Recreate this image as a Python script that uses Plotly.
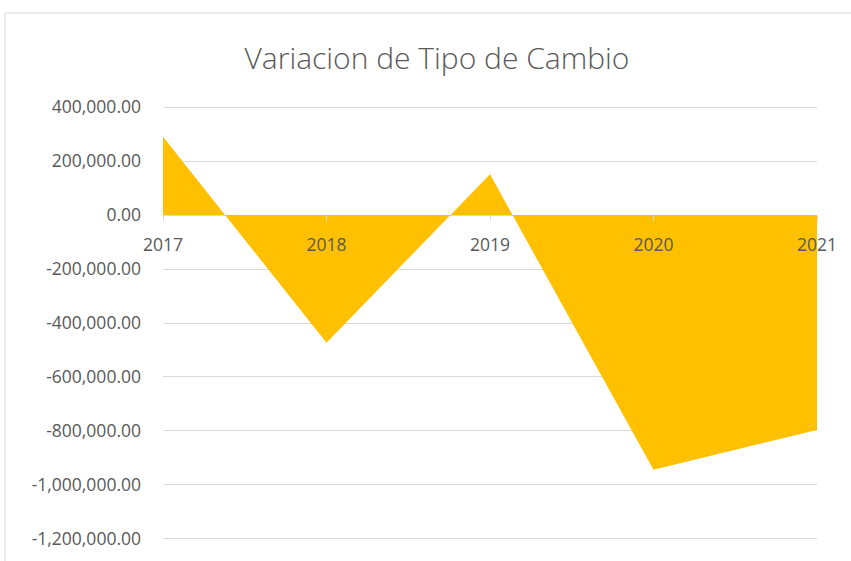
import plotly.graph_objects as go

years = [2017, 2018, 2019, 2020, 2021]
variacion = [290000, -473000, 151000, -944000, -796000]
y_ticks = [400000, 200000, 0, -200000, -400000, -600000, -800000, -1000000, -1200000]
y_tick_labels = ["400,000.00", "200,000.00", "0.00", "-200,000.00", "-400,000.00",
                 "-600,000.00", "-800,000.00", "-1,000,000.00", "-1,200,000.00"]

FONT = "Open Sans, sans-serif"

fig = go.Figure()
fig.add_trace(go.Scatter(
    x=years, y=variacion, mode="lines", fill="tozeroy",
    line=dict(width=0, color="#FFC000"), fillcolor="#FFC000",
    hoverinfo="x+y", showlegend=False,
))

PAD = 11200  # ~3 px of breathing room so edge gridlines are drawn
L, R, T, B = 163, 34, 104, 19
W, H = 851, 561
pw, ph = W - L - R, H - T - B

fig.update_layout(
    width=W, height=H,
    margin=dict(l=L, r=R, t=T, b=B),
    paper_bgcolor="white", plot_bgcolor="white",
    title=dict(text="Variacion de Tipo de Cambio", x=437 / W, xanchor="center",
               y=1 - 58 / H, yanchor="middle",
               font=dict(family=FONT, size=30, color="#595959", weight=300)),
    xaxis=dict(
        range=[2017, 2021], tickvals=years, ticktext=[str(y) for y in years],
        showgrid=False, zeroline=False, showline=False,
        anchor="free", position=(1200000 + PAD) / (1600000 + 2 * PAD),
        ticks="outside", ticklen=5, tickcolor="#d9d9d9",
        ticklabelstandoff=9,
        tickfont=dict(family=FONT, size=17.5, color="#595959"),
    ),
    yaxis=dict(
        range=[-1200000 - PAD, 400000 + PAD], tickvals=y_ticks, ticktext=y_tick_labels,
        showgrid=True, gridcolor="#d9d9d9", gridwidth=1,
        zeroline=True, zerolinecolor="#d9d9d9", zerolinewidth=1,
        showline=False, ticks="", ticklabelstandoff=21,
        tickfont=dict(family=FONT, size=17.5, color="#595959"),
    ),
    shapes=[dict(type="rect", xref="paper", yref="paper",
                 x0=(5 - L) / pw, x1=(W + 10 - L) / pw,
                 y0=(H - B - (H + 10)) / ph, y1=(H - B - 13) / ph,
                 line=dict(color="#d9d9d9", width=1), fillcolor="rgba(0,0,0,0)",
                 layer="below")],
)

fig.write_html("out.html", config={"displayModeBar": False},
               post_script="document.body.style.margin='0';document.body.style.overflow='hidden';")
